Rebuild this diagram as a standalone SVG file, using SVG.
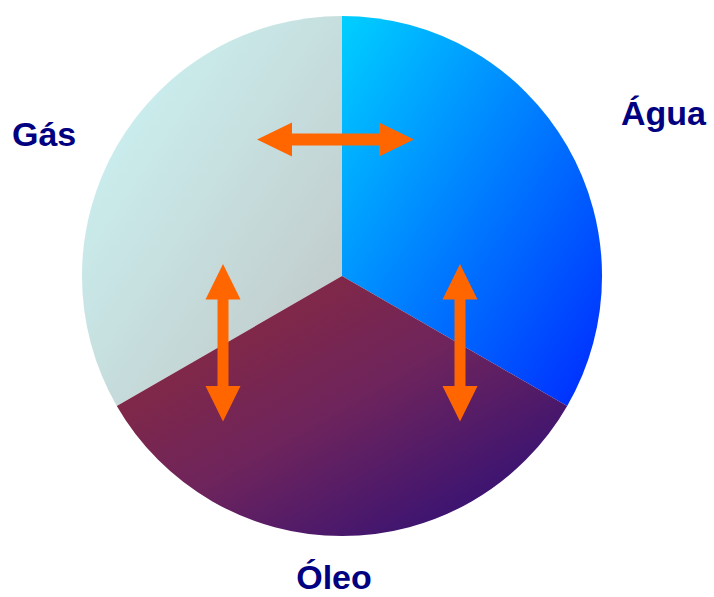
<svg xmlns="http://www.w3.org/2000/svg" width="714" height="597" viewBox="0 0 714 597">
  <style>
    .lbl { font-family: "Liberation Sans", Arial, sans-serif; font-weight: bold; font-size: 34px; fill: #000080; }
    .arrow { fill: #FF6600; }
  </style>
  <defs>
    <linearGradient id="gGas" x1="0" y1="0" x2="1" y2="1">
      <stop offset="0" stop-color="#CDF8F8"/>
      <stop offset="1" stop-color="#C0C4C4"/>
    </linearGradient>
    <linearGradient id="gAgua" x1="0" y1="0" x2="1" y2="1">
      <stop offset="0" stop-color="#00D0FF"/>
      <stop offset="1" stop-color="#0028FF"/>
    </linearGradient>
    <linearGradient id="gOleo" x1="0" y1="0" x2="1" y2="1">
      <stop offset="0" stop-color="#922C34"/>
      <stop offset="0.5" stop-color="#6E245C"/>
      <stop offset="1" stop-color="#240C7C"/>
    </linearGradient>
  </defs>
  <rect width="714" height="597" fill="#FFFFFF"/>
  <g id="gas">
    <path d="M342,276 L342,16 A260,260 0 0 0 116.8,406 Z" fill="url(#gGas)"/>
    <text class="lbl" x="12" y="146">Gás</text>
  </g>
  <g id="agua">
    <path d="M342,276 L342,16 A260,260 0 0 1 567.2,406 Z" fill="url(#gAgua)"/>
    <text class="lbl" x="621" y="125">Água</text>
  </g>
  <g id="oleo">
    <path d="M342,276 L567.2,406 A260,260 0 0 1 116.8,406 Z" fill="url(#gOleo)"/>
    <text class="lbl" x="334" y="589" text-anchor="middle">Óleo</text>
  </g>
  <g id="connectors">
    <polygon class="arrow" points="257,139.5 292,122.5 292,133.5 379,133.5 379,122.5 414,139.5 379,156.5 379,145.5 292,145.5 292,156.5"/>
    <polygon class="arrow" points="223,264 240.5,299.5 228.5,299.5 228.5,386 240.5,386 223,421.5 205.5,386 217.5,386 217.5,299.5 205.5,299.5"/>
    <polygon class="arrow" points="460,264 477.5,299.5 465.5,299.5 465.5,386 477.5,386 460,421.5 442.5,386 454.5,386 454.5,299.5 442.5,299.5"/>
  </g>
</svg>
